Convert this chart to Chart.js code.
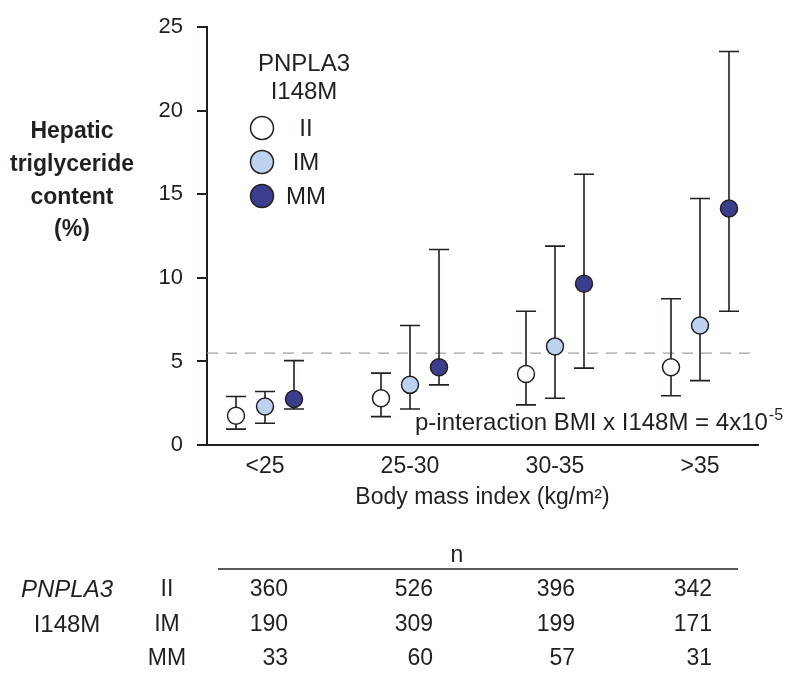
<!DOCTYPE html>
<html>
<head>
<meta charset="utf-8">
<script src="https://cdn.jsdelivr.net/npm/chart.js@4.4.0/dist/chart.umd.min.js"></script>
<style>
  html, body { margin: 0; padding: 0; background: #fff; }
  #wrap { width: 800px; height: 676px; }
</style>
</head>
<body>
<div id="wrap"><canvas id="myChart" width="800" height="676"></canvas></div>
<script>
const bmiGroups = ["<25", "25-30", "30-35", ">35"];
const genotypes = ["II", "IM", "MM"];

// hepatic TG (%), point + lower/upper whisker
const iiMean = [1.75, 2.8, 4.25, 4.65];
const iiLow = [0.95, 1.7, 2.4, 2.95];
const iiHigh = [2.9, 4.3, 8.0, 8.75];

const imMean = [2.3, 3.6, 5.9, 7.15];
const imLow = [1.3, 2.15, 2.8, 3.85];
const imHigh = [3.2, 7.15, 11.9, 14.75];

const mmMean = [2.75, 4.65, 9.65, 14.15];
const mmLow = [2.15, 3.6, 4.6, 8.0];
const mmHigh = [5.05, 11.7, 16.2, 23.55];

const cutoff = 5.5;

// n per group
const nII = [360, 526, 396, 342];
const nIM = [190, 309, 199, 171];
const nMM = [33, 60, 57, 31];

const ink = "#231f20";
const fillColors = ["#ffffff", "#bcd2ee", "#3d3d8e"];
const offsets = [-0.2, 0, 0.2];
const FONT = "'Liberation Sans', Arial, sans-serif";

Chart.defaults.font.family = FONT;
Chart.defaults.color = ink;

const groups = [
  { mean: iiMean, low: iiLow, high: iiHigh },
  { mean: imMean, low: imLow, high: imHigh },
  { mean: mmMean, low: mmLow, high: mmHigh },
];

const datasets = groups.map((g, k) => ({
  label: genotypes[k],
  data: g.mean.map((v, i) => ({ x: i + offsets[k], y: v })),
  backgroundColor: fillColors[k],
  borderColor: ink,
  borderWidth: 1.5,
  pointRadius: 8.5,
  pointHoverRadius: 8.5,
  showLine: false,
}));

const extras = {
  id: "extras",
  beforeDatasetsDraw(chart) {
    const { ctx, chartArea, scales: { x, y } } = chart;
    ctx.save();
    // dashed reference line
    ctx.strokeStyle = "#a0a0a0";
    ctx.lineWidth = 1.2;
    ctx.setLineDash([11, 8]);
    ctx.beginPath();
    ctx.moveTo(chartArea.left, y.getPixelForValue(cutoff));
    ctx.lineTo(chartArea.right - 6, y.getPixelForValue(cutoff));
    ctx.stroke();
    ctx.setLineDash([]);

    // error bars
    ctx.strokeStyle = ink;
    ctx.lineWidth = 1.6;
    groups.forEach((g, k) => {
      g.mean.forEach((v, i) => {
        const px = x.getPixelForValue(i + offsets[k]);
        const lo = y.getPixelForValue(g.low[i]);
        const hi = y.getPixelForValue(g.high[i]);
        ctx.beginPath();
        ctx.moveTo(px, lo);
        ctx.lineTo(px, hi);
        ctx.moveTo(px - 10, lo);
        ctx.lineTo(px + 10, lo);
        ctx.moveTo(px - 10, hi);
        ctx.lineTo(px + 10, hi);
        ctx.stroke();
      });
    });
    ctx.restore();
  },
  afterDraw(chart) {
    const ctx = chart.ctx;
    ctx.save();
    ctx.fillStyle = ink;
    ctx.textBaseline = "middle";

    // y axis title
    ctx.textAlign = "center";
    ctx.font = "bold 23px " + FONT;
    ["Hepatic", "triglyceride", "content", "(%)"].forEach((t, i) => {
      ctx.fillText(t, 72, 132 + i * 32.7);
    });

    // legend
    ctx.font = "24px " + FONT;
    ctx.fillText("PNPLA3", 304, 64);
    ctx.fillText("I148M", 304, 92);
    genotypes.forEach((gt, k) => {
      const cy = 128 + k * 34;
      ctx.beginPath();
      ctx.arc(262, cy, 11.5, 0, Math.PI * 2);
      ctx.fillStyle = fillColors[k];
      ctx.fill();
      ctx.strokeStyle = ink;
      ctx.lineWidth = 1.5;
      ctx.stroke();
      ctx.fillStyle = ink;
      ctx.fillText(gt, 306, cy + 1);
    });

    // interaction p value
    ctx.textAlign = "left";
    ctx.textBaseline = "alphabetic";
    ctx.font = "24px " + FONT;
    const main = "p-interaction BMI x I148M = 4x10";
    ctx.fillText(main, 415, 430);
    const w = ctx.measureText(main).width;
    ctx.font = "16px " + FONT;
    ctx.fillText("-5", 415 + w + 1, 420);

    // n table
    ctx.textBaseline = "middle";
    ctx.textAlign = "center";
    ctx.font = "23px " + FONT;
    ctx.fillText("n", 457, 556);
    ctx.strokeStyle = ink;
    ctx.lineWidth = 1.3;
    ctx.beginPath();
    ctx.moveTo(218, 569);
    ctx.lineTo(738, 569);
    ctx.stroke();

    ctx.font = "italic 24px " + FONT;
    ctx.fillText("PNPLA3", 67, 590);
    ctx.font = "24px " + FONT;
    ctx.fillText("I148M", 67, 625);

    const rowY = [590, 625, 659];
    const colRight = [288, 433, 575, 712];
    [nII, nIM, nMM].forEach((row, r) => {
      ctx.textAlign = "center";
      ctx.font = "23px " + FONT;
      ctx.fillText(genotypes[r], 167, rowY[r]);
      ctx.textAlign = "right";
      row.forEach((n, c) => ctx.fillText(String(n), colRight[c], rowY[r]));
    });
    ctx.restore();
  },
};

const ctx = document.getElementById("myChart");

new Chart(ctx, {
  type: "scatter",
  data: { datasets },
  options: {
    responsive: false,
    animation: false,
    layout: { padding: { top: 17, right: 42, bottom: 151, left: 0 } },
    plugins: { legend: { display: false }, tooltip: { enabled: false } },
    scales: {
      x: {
        type: "linear",
        min: -0.4,
        max: 3.4,
        afterFit: (scale) => { scale.height = 80; },
        afterBuildTicks: (scale) => {
          scale.ticks = bmiGroups.map((g, i) => ({ value: i }));
        },
        ticks: {
          padding: 8,
          color: ink,
          font: { size: 23 },
          callback: (v) => bmiGroups[Math.round(v)],
        },
        grid: { display: false, drawTicks: false },
        border: { display: true, color: ink, width: 2 },
        title: {
          display: true,
          text: "Body mass index (kg/m²)",
          color: ink,
          font: { size: 23 },
          padding: { top: 0, bottom: 14 },
        },
      },
      y: {
        min: 0,
        max: 25,
        afterFit: (scale) => { scale.width = 207; },
        ticks: { stepSize: 5, padding: 14, color: ink, font: { size: 22 } },
        grid: {
          display: true,
          drawOnChartArea: false,
          drawTicks: true,
          tickLength: 10,
          color: ink,
          lineWidth: 2,
        },
        border: { display: true, color: ink, width: 2 },
      },
    },
  },
  plugins: [extras],
});
</script>
</body>
</html>
